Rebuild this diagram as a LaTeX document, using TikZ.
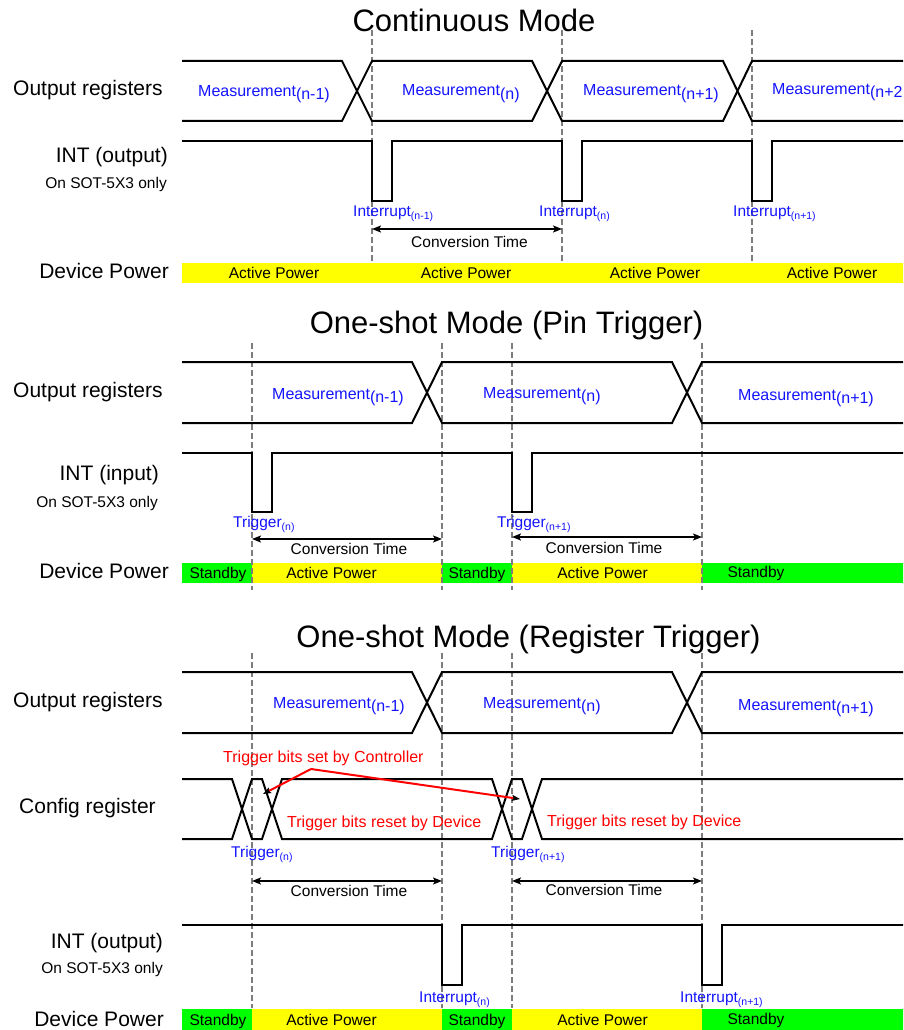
\documentclass[tikz,border=0pt]{standalone}
\usepackage{fontspec}
\setmainfont{Liberation Sans}
\usetikzlibrary{arrows.meta}
\definecolor{sigblue}{RGB}{20,20,255}
\definecolor{pyellow}{RGB}{255,255,0}
\definecolor{pgreen}{RGB}{0,255,0}
\definecolor{dgray}{RGB}{125,125,125}
\newcommand\msub[1]{\raisebox{-3pt}{(#1)}}
\newcommand\ssub[1]{\raisebox{-3pt}{\fontsize{10.5}{10.5}\selectfont(#1)}}
\tikzset{
 sig/.style={line width=2pt, line join=miter},
 guide/.style={dgray, line width=1.5pt, dash pattern=on 6pt off 3pt},
 ttl/.style={anchor=base, inner sep=0, font=\fontsize{31}{31}\selectfont},
 rowlbl/.style={anchor=base east, inner sep=0, font=\fontsize{21}{21}\selectfont},
 rowlblw/.style={anchor=base west, inner sep=0, font=\fontsize{21}{21}\selectfont},
 note/.style={anchor=base east, inner sep=0, font=\fontsize{15.5}{16}\selectfont},
 meas/.style={anchor=base west, text=sigblue, font=\fontsize{16}{16}\selectfont, inner sep=0},
 evt/.style={anchor=base west, text=sigblue, font=\fontsize{15.5}{16}\selectfont, inner sep=0},
 redtxt/.style={anchor=base west, text=red, font=\fontsize{16}{16}\selectfont, inner sep=0},
 ctime/.style={anchor=base, font=\fontsize{15.5}{16}\selectfont, inner sep=0},
 spanarrow/.style={{Stealth[length=9pt,width=7pt,inset=2pt]}-{Stealth[length=9pt,width=7pt,inset=2pt]}, line width=1.5pt},
 redarrow/.style={red, line width=2pt, -{Stealth[length=8pt,width=6pt,inset=1.5pt,color=black]}},
 pwr/.style={anchor=base, font=\fontsize{15.5}{16}\selectfont, inner sep=0},
}
\begin{document}
\begin{tikzpicture}[x=1pt,y=-1pt]
\useasboundingbox (0,0) rectangle (903,1030);
\clip (0,0) rectangle (903,1030);
\fill[white] (0,0) rectangle (903,1030);

%% ================= Section 1: Continuous Mode =================
\fill[pyellow] (182,263) rectangle (910,283);
\foreach \x in {372,562,752} \draw[guide] (\x,30) -- (\x,262);
\node[ttl] (t1) at (474,32) {Continuous Mode};
% output registers
\draw[sig] (182,61) -- (342,61) -- (372,121) -- (532,121) -- (562,61) -- (723,61) -- (752,121) -- (910,121);
\draw[sig] (182,121) -- (342,121) -- (372,61) -- (532,61) -- (562,121) -- (723,121) -- (752,61) -- (910,61);
\node[rowlblw] (or1) at (13,96) {Output registers};
\node[meas] (m1a) at (198,97) {Measurement\msub{n-1}};
\node[meas] (m1b) at (402,96) {Measurement\msub{n}};
\node[meas] (m1c) at (583,96) {Measurement\msub{n+1}};
\node[meas] (m1d) at (772,95) {Measurement\raisebox{-3pt}{(n+2}};
% INT output
\draw[sig] (182,141) -- (372,141) -- (372,201) -- (392,201) -- (392,141) -- (562,141) -- (562,201) -- (582,201) -- (582,141) -- (752,141) -- (752,201) -- (772,201) -- (772,141) -- (910,141);
\node[rowlbl] (int1) at (168,162) {INT (output)};
\node[note] (sot1) at (167,188) {On SOT-5X3 only};
\node[evt] (i1a) at (353,216) {Interrupt\ssub{n-1}};
\node[evt] (i1b) at (539,216) {Interrupt\ssub{n}};
\node[evt] (i1c) at (733,216) {Interrupt\ssub{n+1}};
\coordinate (c1a) at (372,229);
\coordinate (c1b) at (562,229);
\draw[spanarrow] (c1a) -- (c1b);
\node[ctime] (ct1) at (469.5,247) {Conversion Time};
\node[rowlbl] (dp1) at (169,278) {Device Power};
\node[pwr] (p1a) at (274,278) {Active Power};
\node[pwr] (p1b) at (466,278) {Active Power};
\node[pwr] (p1c) at (655,278) {Active Power};
\node[pwr] (p1d) at (832,278) {Active Power};

%% ================= Section 2: Pin Trigger =================
\fill[pgreen] (182,563) rectangle (252,583);
\fill[pyellow] (252,563) rectangle (442,583);
\fill[pgreen] (442,563) rectangle (512,583);
\fill[pyellow] (512,563) rectangle (702,583);
\fill[pgreen] (702,563) rectangle (910,583);
\foreach \x in {252,442,512,702} \draw[guide] (\x,343) -- (\x,590);
\node[ttl] (t2) at (506.5,333) {One-shot Mode (Pin Trigger)};
\draw[sig] (182,362) -- (412,362) -- (442,423) -- (672,423) -- (702,362) -- (910,362);
\draw[sig] (182,423) -- (412,423) -- (442,362) -- (672,362) -- (702,423) -- (910,423);
\node[rowlblw] (or2) at (13,397) {Output registers};
\node[meas] (m2a) at (272,399) {Measurement\msub{n-1}};
\node[meas] (m2b) at (483,398) {Measurement\msub{n}};
\node[meas] (m2c) at (738,400) {Measurement\msub{n+1}};
\draw[sig] (182,453) -- (252,453) -- (252,512) -- (272,512) -- (272,453) -- (512,453) -- (512,512) -- (532,512) -- (532,453) -- (910,453);
\node[rowlbl] (int2) at (159,480) {INT (input)};
\node[note] (sot2) at (158,507) {On SOT-5X3 only};
\node[evt] (g2a) at (233,527) {Trigger\ssub{n}};
\node[evt] (g2b) at (497,527) {Trigger\ssub{n+1}};
\coordinate (c2a) at (252,539);
\coordinate (c2b) at (442,539);
\coordinate (c2c) at (512,537);
\coordinate (c2d) at (702,537);
\draw[spanarrow] (c2a) -- (c2b);
\draw[spanarrow] (c2c) -- (c2d);
\node[ctime] (ct2a) at (349,554) {Conversion Time};
\node[ctime] (ct2b) at (604,553) {Conversion Time};
\node[rowlbl] (dp2) at (169,578) {Device Power};
\node[pwr] (p2a) at (218,578) {Standby};
\node[pwr] (p2b) at (331.5,578) {Active Power};
\node[pwr] (p2c) at (477,578) {Standby};
\node[pwr] (p2d) at (602.5,578) {Active Power};
\node[pwr] (p2e) at (756,577) {Standby};

%% ================= Section 3: Register Trigger =================
\foreach \x in {252,442,512,702} \draw[guide] (\x,653) -- (\x,1008);
\fill[pgreen] (182,1009) rectangle (252,1030);
\fill[pyellow] (252,1009) rectangle (442,1030);
\fill[pgreen] (442,1009) rectangle (512,1030);
\fill[pyellow] (512,1009) rectangle (702,1030);
\fill[pgreen] (702,1009) rectangle (910,1030);
\node[ttl] (t3) at (528.5,647) {One-shot Mode (Register Trigger)};
\draw[sig] (182,672) -- (412,672) -- (442,733) -- (672,733) -- (702,672) -- (910,672);
\draw[sig] (182,733) -- (412,733) -- (442,672) -- (672,672) -- (702,733) -- (910,733);
\node[rowlblw] (or3) at (13,707) {Output registers};
\node[meas] (m3a) at (273,708) {Measurement\msub{n-1}};
\node[meas] (m3b) at (483,708) {Measurement\msub{n}};
\node[meas] (m3c) at (738,710) {Measurement\msub{n+1}};
% config register
\draw[sig] (182,779) -- (232,779) -- (252,839) -- (262,839) -- (282,779) -- (492,779) -- (512,839) -- (522,839) -- (542,779) -- (910,779);
\draw[sig] (182,839) -- (232,839) -- (252,779) -- (262,779) -- (282,839) -- (492,839) -- (512,779) -- (522,779) -- (542,839) -- (910,839);
\node[rowlblw] (cfg) at (19,813) {Config register};
\node[redtxt] (rset) at (223,762) {Trigger bits set by Controller};
\node[redtxt] (rrst1) at (287,827) {Trigger bits reset by Device};
\node[redtxt] (rrst2) at (547,826) {Trigger bits reset by Device};
\coordinate (rv) at (311,769);
\coordinate (ra) at (263,794);
\coordinate (rb) at (520,799);
\draw[redarrow] (rv) -- (ra);
\draw[redarrow] (rv) -- (rb);
\node[evt] (g3a) at (231,857) {Trigger\ssub{n}};
\node[evt] (g3b) at (491,857) {Trigger\ssub{n+1}};
\coordinate (c3a) at (252,881);
\coordinate (c3b) at (442,881);
\coordinate (c3c) at (512,881);
\coordinate (c3d) at (702,881);
\draw[spanarrow] (c3a) -- (c3b);
\draw[spanarrow] (c3c) -- (c3d);
\node[ctime] (ct3a) at (349,896) {Conversion Time};
\node[ctime] (ct3b) at (604,895) {Conversion Time};
\draw[sig] (182,925) -- (442,925) -- (442,985) -- (462,985) -- (462,925) -- (702,925) -- (702,985) -- (722,985) -- (722,925) -- (910,925);
\node[rowlbl] (int3) at (163,948) {INT (output)};
\node[note] (sot3) at (163,973) {On SOT-5X3 only};
\node[evt] (i3a) at (419,1002) {Interrupt\ssub{n}};
\node[evt] (i3b) at (680,1002) {Interrupt\ssub{n+1}};
\node[rowlbl] (dp3) at (164,1026) {Device Power};
\node[pwr] (p3a) at (218,1025) {Standby};
\node[pwr] (p3b) at (331.5,1025) {Active Power};
\node[pwr] (p3c) at (477,1025) {Standby};
\node[pwr] (p3d) at (602.5,1025) {Active Power};
\node[pwr] (p3e) at (756,1024) {Standby};
\end{tikzpicture}
\end{document}
